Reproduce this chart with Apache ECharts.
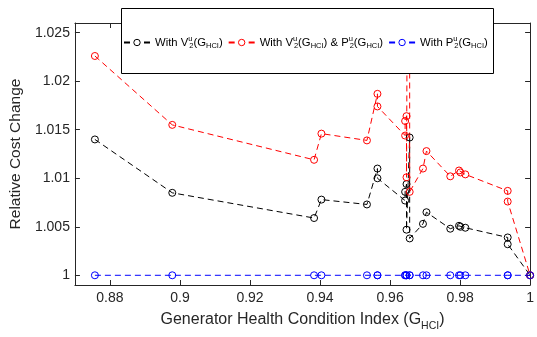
<!DOCTYPE html>
<html>
<head>
<meta charset="utf-8">
<script src="https://cdn.jsdelivr.net/npm/echarts@6/dist/echarts.min.js"></script>
<style>
html,body{margin:0;padding:0;background:#fff;}
#c{width:537px;height:337px;}
</style>
</head>
<body>
<div id="c"></div>
<script>
// ---- data ----
const ghci = [0.8757, 0.8978, 0.9383, 0.9404, 0.9534, 0.9564, 0.9564, 0.9643, 0.9643, 0.9647, 0.9647, 0.9656, 0.9656, 0.9694, 0.9704, 0.9772, 0.9797, 0.9801, 0.9815, 0.9936, 0.9936, 1.0];
const withV = [1.0140, 1.0085, 1.0059, 1.0078, 1.0073, 1.0110, 1.0100, 1.0077, 1.0086, 1.0094, 1.0047, 1.0142, 1.0038, 1.0053, 1.0065, 1.0048, 1.0051, 1.0050, 1.0049, 1.0039, 1.0032, 1.0000];
const withVP = [1.0226, 1.0155, 1.0119, 1.0146, 1.0139, 1.0187, 1.0174, 1.0144, 1.0159, 1.0164, 1.0101, 1.0900, 1.0086, 1.0110, 1.0128, 1.0102, 1.0108, 1.0106, 1.0104, 1.0087, 1.0076, 1.0000];
const withP = [1, 1, 1, 1, 1, 1, 1, 1, 1, 1, 1, 1, 1, 1, 1, 1, 1, 1, 1, 1, 1, 1];
const xTicks = [0.88, 0.9, 0.92, 0.94, 0.96, 0.98, 1];
const xTickLabels = ['0.88', '0.9', '0.92', '0.94', '0.96', '0.98', '1'];
const yTicks = [1, 1.005, 1.01, 1.015, 1.02, 1.025];
const yTickLabels = ['1', '1.005', '1.01', '1.015', '1.02', '1.025'];
const seriesNames = ['V', 'VP', 'P'];

const FONT = '"Liberation Sans", Arial, Helvetica, sans-serif';
const AX = '#262626';

function lbl(ticks, labels) {
  return function (v) {
    for (let i = 0; i < ticks.length; i++) if (Math.abs(ticks[i] - v) < 1e-9) return labels[i];
    return '';
  };
}
function pairs(ys) { return ghci.map((x, i) => [x, ys[i]]); }

const chart = echarts.init(document.getElementById('c'), null, {renderer: 'canvas'});

const axisCommon = {
  axisLine: {show: true, onZero: false, lineStyle: {color: AX, width: 1}},
  splitLine: {show: false}
};

function mkSeries(name, ys, color) {
  return {
    name: name, type: 'line', data: pairs(ys),
    symbol: 'circle', symbolSize: 7,
    itemStyle: {color: 'rgba(255,255,255,0)', borderColor: color, borderWidth: 1},
    lineStyle: {color: color, width: 1, type: [6, 4]},
    clip: true, animation: false
  };
}

const rich = {
  t: {fontSize: 11.3, fontFamily: FONT, color: '#000'},
  sp: {fontSize: 7.5, fontFamily: FONT, color: '#000', verticalAlign: 'top', lineHeight: 15, width: 1},
  sb: {fontSize: 7.5, fontFamily: FONT, color: '#000', verticalAlign: 'bottom', lineHeight: 15}
};

const legendText = {
  V: '{t|With V}{sp|u}{sb|2}{t|(G}{sb|HCI}{t|)}',
  VP: '{t|With V}{sp|u}{sb|2}{t|(G}{sb|HCI}{t|) & P}{sp|u}{sb|2}{t|(G}{sb|HCI}{t|)}',
  P: '{t|With P}{sp|u}{sb|2}{t|(G}{sb|HCI}{t|)}'
};

chart.setOption({
  animation: false,
  backgroundColor: '#fff',
  grid: {left: 68, right: 1, top: 23, bottom: 45, containLabel: false},
  xAxis: [
    Object.assign({}, axisCommon, {
      type: 'value', min: 0.87, max: 1.0, position: 'bottom',
      axisTick: {show: true, inside: true, length: 5, lineStyle: {color: AX}, customValues: xTicks},
      axisLabel: {customValues: xTicks, formatter: lbl(xTicks, xTickLabels), fontSize: 14, fontFamily: FONT, color: AX, margin: 6},
      name: '{n|Generator Health Condition Index (G}{s|HCI}{n|)}',
      nameLocation: 'middle', nameGap: 23,
      nameTextStyle: {rich: {
        n: {fontSize: 16, fontFamily: FONT, color: AX},
        s: {fontSize: 10.5, fontFamily: FONT, color: AX, verticalAlign: 'bottom', lineHeight: 24}
      }}
    }),
    Object.assign({}, axisCommon, {
      type: 'value', min: 0.87, max: 1.0, position: 'top',
      axisTick: {show: true, inside: true, length: 5, lineStyle: {color: AX}, customValues: xTicks},
      axisLabel: {show: false}
    })
  ],
  yAxis: [
    Object.assign({}, axisCommon, {
      type: 'value', min: 0.999, max: 1.026, position: 'left',
      axisTick: {show: true, inside: true, length: 5, lineStyle: {color: AX}, customValues: yTicks},
      axisLabel: {customValues: yTicks, formatter: lbl(yTicks, yTickLabels), fontSize: 14, fontFamily: FONT, color: AX, margin: 5},
      name: 'Relative Cost Change', nameLocation: 'middle', nameGap: 31, nameRotate: 90,
      nameTextStyle: {fontSize: 15.5, fontFamily: FONT, color: AX}
    }),
    Object.assign({}, axisCommon, {
      type: 'value', min: 0.999, max: 1.026, position: 'right',
      axisTick: {show: true, inside: true, length: 5, lineStyle: {color: AX}, customValues: yTicks},
      axisLabel: {show: false}
    })
  ],
  graphic: [{
    type: 'rect', left: 121, top: 8, z: 100,
    shape: {width: 372, height: 65},
    style: {fill: '#fff', stroke: '#000', lineWidth: 1}
  }],
  legend: {
    z: 200, left: 123, top: 35, padding: 0,
    itemWidth: 26, itemHeight: 8, itemGap: 5,
    selectedMode: false,
    data: seriesNames,
    itemStyle: {borderWidth: 1, color: '#fff'},
    formatter: function (n) { return legendText[n]; },
    textStyle: {rich: rich}
  },
  series: [
    mkSeries('V', withV, '#000000'),
    mkSeries('VP', withVP, '#ff0000'),
    mkSeries('P', withP, '#0000ff')
  ]
});
</script>
</body>
</html>
